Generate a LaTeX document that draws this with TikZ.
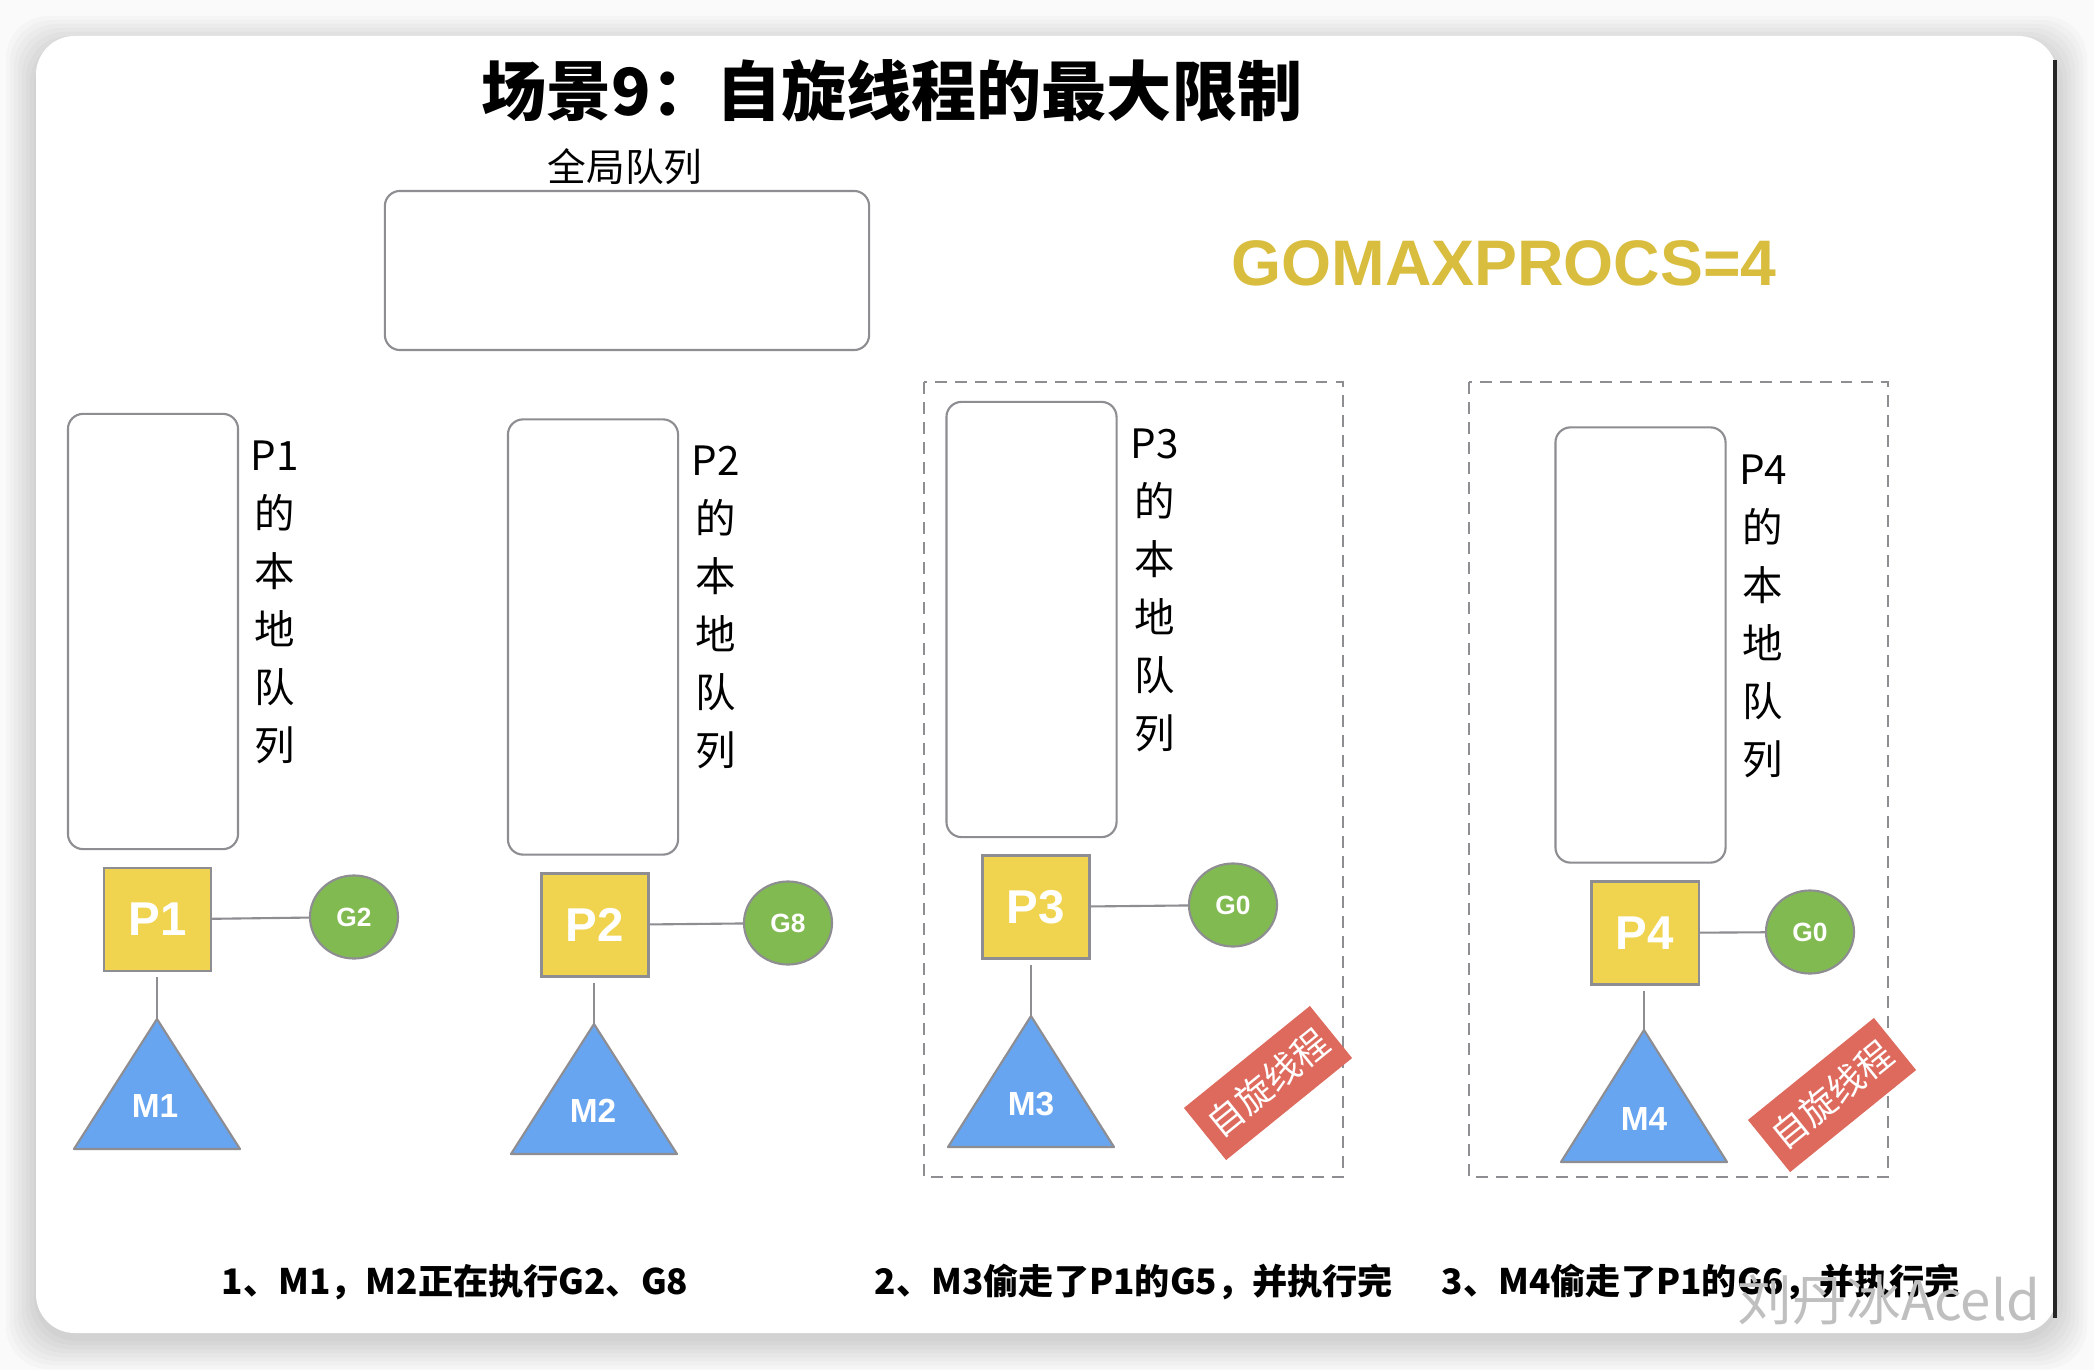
\documentclass[tikz,border=0pt]{standalone}
\usepackage{fontspec}
\setmainfont{Liberation Sans}
\newfontfamily\cjk{Noto Sans CJK SC}
\usetikzlibrary{shapes.geometric,positioning,calc}
\definecolor{procyellow}{HTML}{F0D44F}
\definecolor{gorgreen}{HTML}{82BA52}
\definecolor{machblue}{HTML}{67A5F1}
\definecolor{spinred}{HTML}{DE6A5E}
\definecolor{edgegray}{HTML}{8D8D92}
\definecolor{maxgold}{HTML}{D9BD3E}

\begin{document}
\begin{tikzpicture}[
  x=0.01cm, y=-0.01cm,
  every node/.style={inner sep=0pt},
  queue/.style={rectangle, draw=edgegray, line width=0.6pt, rounded corners=4.3pt, minimum width=1.7cm, minimum height=4.35cm},
  proc/.style={rectangle, draw=edgegray, fill=procyellow, line width=0.6pt, minimum width=1.07cm, minimum height=1.03cm, text=white, font=\fontsize{13.5}{13.5}\selectfont\bfseries},
  gor/.style={ellipse, draw=edgegray, fill=gorgreen, line width=0.6pt, minimum width=0.88cm, minimum height=0.83cm, text=white, font=\fontsize{7.5}{7.5}\selectfont\bfseries},
  mach/.style={draw=edgegray, fill=machblue, line width=0.6pt, line join=round},
  mlabel/.style={text=white, font=\fontsize{9.5}{9.5}\selectfont\bfseries},
  link/.style={draw=edgegray, line width=0.6pt},
  vtext/.style={align=center, anchor=north, font=\cjk\fontsize{11.5}{16.5}\selectfont},
  spin/.style={rectangle, fill=spinred, minimum width=1.62cm, minimum height=0.67cm, rotate=39, text=white, font=\cjk\fontsize{10.3}{10.3}\selectfont},
  zone/.style={draw=edgegray, line width=0.6pt, dash pattern=on 3.4pt off 2.3pt},
  note/.style={font=\cjk\bfseries\fontsize{10}{10}\selectfont},
]
\useasboundingbox (0,0) rectangle (2094,1370);

% card with soft shadow
\fill[black!2] (0,0) rectangle (2094,1370);
\foreach \s in {2,6,...,30}
  \fill[black, opacity=0.018, rounded corners=12pt] (36-\s,36-\s+10) rectangle (2057+\s,1333+\s+6);
\fill[white, rounded corners=11pt] (36,36) rectangle (2057,1333);
\draw[black!85, line width=0.9pt] (2055,60) -- (2055,1318);

% title and global queue
\node[font=\cjk\bfseries\fontsize{18.5}{18.5}\selectfont] (title) at (892,91) {场景9：自旋线程的最大限制};
\node[font=\cjk\fontsize{11}{11}\selectfont] (globallabel) at (625,167) {全局队列};
\node[queue, minimum width=4.84cm, minimum height=1.59cm] (globalq) at (627,270.5) {};
\node[text=maxgold, font=\fontsize{18.3}{18.3}\selectfont\bfseries] (maxprocs) at (1504,263) {GOMAXPROCS=4};

% spinning zones
\draw[zone] (924,382) rectangle (1343,1177);
\draw[zone] (1469,382) rectangle (1888,1177);

% P1
\node[queue] (p1q) at (153,631.5) {};
\node[vtext] (p1txt) at (275,440) {P1\\的\\本\\地\\队\\列};
\node[proc] (p1) at (157.5,919.5) {P1};
\node[gor] (g2) at (354,917) {G2};
\coordinate (m1top) at (157,1019);
\draw[mach] (m1top) -- ++(-83,130) -- ++(166,0) -- cycle;
\node[mlabel] (m1) at (155,1106) {M1};
\draw[link] (p1) -- (g2);
\draw[link] ([yshift=-1.5pt]p1.south -| m1top) -- (m1top);

% P2
\node[queue] (p2q) at (593,637) {};
\node[vtext] (p2txt) at (716,445) {P2\\的\\本\\地\\队\\列};
\node[proc] (p2) at (595,925) {P2};
\node[gor] (g8) at (788,923) {G8};
\coordinate (m2top) at (594,1024);
\draw[mach] (m2top) -- ++(-83,130) -- ++(166,0) -- cycle;
\node[mlabel] (m2) at (593,1111) {M2};
\draw[link] (p2) -- (g8);
\draw[link] ([yshift=-1.5pt]p2.south -| m2top) -- (m2top);

% P3
\node[queue] (p3q) at (1031.5,619.5) {};
\node[vtext] (p3txt) at (1155,428) {P3\\的\\本\\地\\队\\列};
\node[proc] (p3) at (1036,907) {P3};
\node[gor] (g0a) at (1233,905) {G0};
\coordinate (m3top) at (1031,1016);
\draw[mach] (m3top) -- ++(-83,131) -- ++(166,0) -- cycle;
\node[mlabel] (m3) at (1031,1104) {M3};
\draw[link] (p3) -- (g0a);
\draw[link] ([yshift=-1.5pt]p3.south -| m3top) -- (m3top);
\node[spin] (spin3) at (1268,1083) {自旋线程};

% P4
\node[queue] (p4q) at (1640.5,645) {};
\node[vtext] (p4txt) at (1763,454) {P4\\的\\本\\地\\队\\列};
\node[proc] (p4) at (1645,933) {P4};
\node[gor] (g0b) at (1810,932) {G0};
\coordinate (m4top) at (1644,1030);
\draw[mach] (m4top) -- ++(-83,132) -- ++(166,0) -- cycle;
\node[mlabel] (m4) at (1644,1119) {M4};
\draw[link] (p4) -- (g0b);
\draw[link] ([yshift=-1.5pt]p4.south -| m4top) -- (m4top);
\node[spin] (spin4) at (1832,1095) {自旋线程};

% steps
\node[note] (step1) at (455,1282) {1、M1，M2正在执行G2、G8};
\node[note] (step2) at (1134,1282) {2、M3偷走了P1的G5，并执行完};
\node[note] (step3) at (1701,1282) {3、M4偷走了P1的G6，并执行完};
\node[text=black!25, font=\cjk\fontsize{15.5}{15.5}\selectfont] (mark) at (1889,1300) {刘丹冰Aceld};

\end{tikzpicture}
\end{document}
